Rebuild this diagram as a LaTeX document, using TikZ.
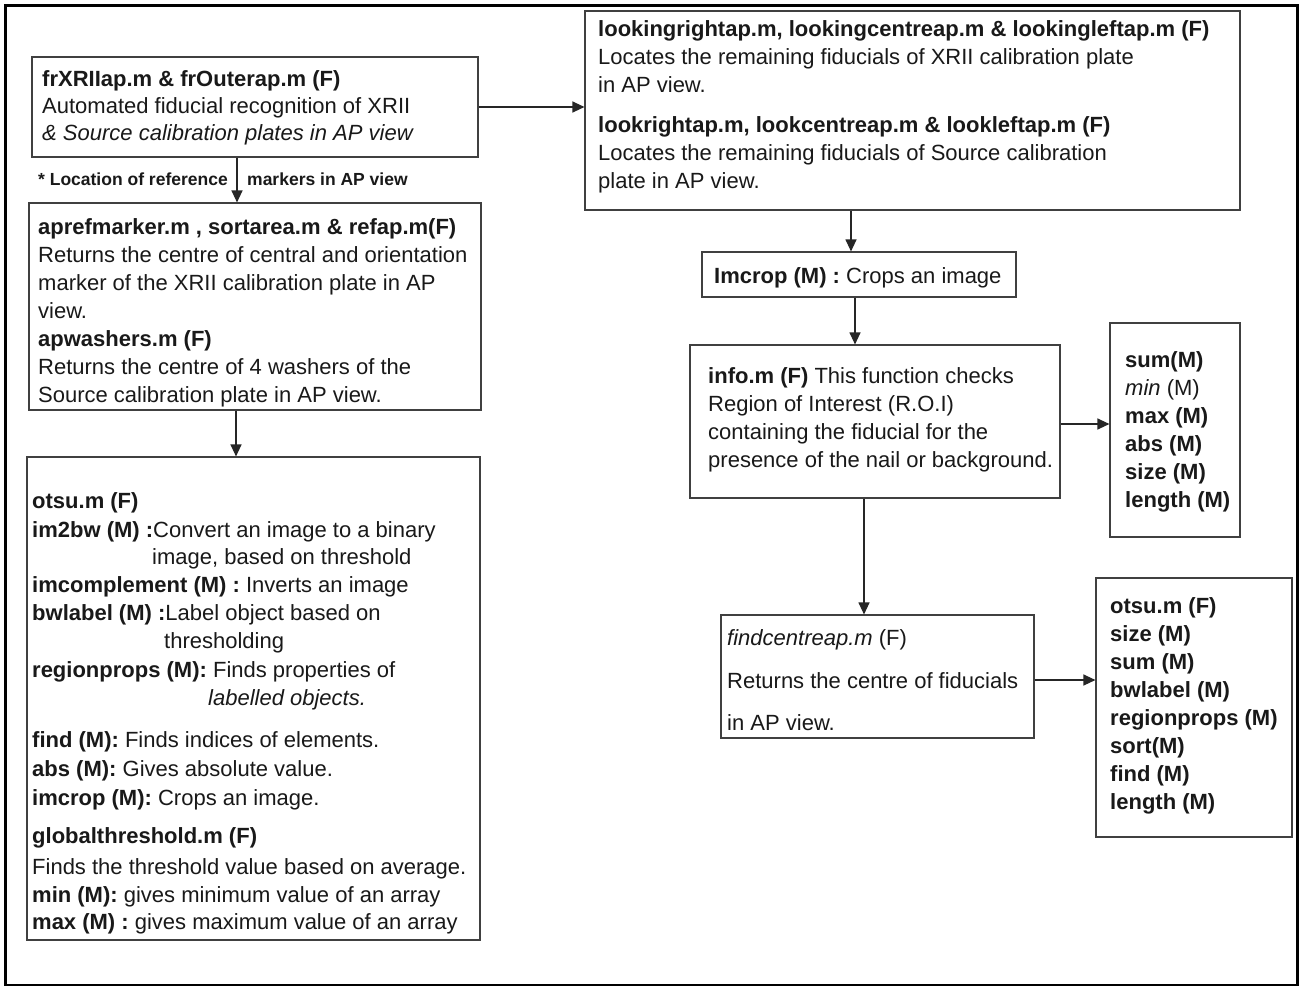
\documentclass[tikz,border=0pt]{standalone}
\usepackage{fontspec}
\setmainfont{Liberation Sans}
\usetikzlibrary{arrows.meta}

% a framed panel given by its corners (x1,y1) (x2,y2)
\newcommand\panel[5]{%
  \node[panelbox, minimum width={#4pt-#2pt}, minimum height={#5pt-#3pt}]
    (#1) at ({(#2+#4)/2},{(#3+#5)/2}) {};}
% one line of text, placed by its baseline start
\newcommand\tline[4]{\node[txt] (#1) at (#2,#3) {#4};}

\begin{document}
\begin{tikzpicture}[x=1pt,y=-1pt,
  panelbox/.style={draw=black!75, line width=1.15pt, inner sep=0pt, fill=none},
  txt/.style={anchor=base west, inner sep=0pt, text=black!90,
              font=\fontsize{22}{26}\selectfont},
  lbl/.style={inner sep=0pt, text=black!90, font=\fontsize{17.5}{20}\selectfont\bfseries},
  arr/.style={draw=black!85, line width=1.2pt, -{Triangle[length=12pt,width=11pt]}},
  frame/.style={draw=black, line width=2.6pt}]
\useasboundingbox (0,0) rectangle (1300,985);
\fill[white] (0,0) rectangle (1300,985);
\draw[frame] (5.5,5.5) rectangle (1297.5,985.2);

% ---- panels ----
\panel{fr}{32}{57}{478}{157}
\panel{look}{585}{11}{1240}{210}
\panel{apref}{29}{203}{481}{410}
\panel{otsu}{27}{457}{480}{940}
\panel{imc}{702}{252}{1016}{297}
\panel{info}{690}{345}{1060}{498}
\panel{sumlist}{1110}{323}{1240}{537}
\panel{find}{721}{615}{1034}{738}
\panel{otsulist}{1096}{578}{1292}{837}

% ---- texts ----
\tline{frA}{42}{86}{\textbf{frXRIIap.m \& frOuterap.m (F)}}
\tline{frB}{42}{113}{Automated fiducial recognition of XRII}
\tline{frC}{42}{140}{\textit{\& Source calibration plates in AP view}}

\tline{lookA}{598}{36}{\textbf{lookingrightap.m, lookingcentreap.m \& lookingleftap.m (F)}}
\tline{lookB}{598}{64}{Locates the remaining fiducials of XRII calibration plate}
\tline{lookC}{598}{92}{in AP view.}
\tline{lookD}{598}{132}{\textbf{lookrightap.m, lookcentreap.m \& lookleftap.m (F)}}
\tline{lookE}{598}{160}{Locates the remaining fiducials of Source calibration}
\tline{lookF}{598}{188}{plate in AP view.}

\tline{apA}{38}{234}{\textbf{aprefmarker.m , sortarea.m \& refap.m(F)}}
\tline{apB}{38}{262}{Returns the centre of central and orientation}
\tline{apC}{38}{290}{marker of the XRII calibration plate in AP}
\tline{apD}{38}{318}{view.}
\tline{apE}{38}{346}{\textbf{apwashers.m (F)}}
\tline{apF}{38}{374}{Returns the centre of 4 washers of the}
\tline{apG}{38}{402}{Source calibration plate in AP view.}

\tline{otA}{32}{508}{\textbf{otsu.m (F)}}
\tline{otB}{32}{537}{\textbf{im2bw (M) :}Convert an image to a binary}
\tline{otC}{152}{564}{image, based on threshold}
\tline{otD}{32}{592}{\textbf{imcomplement (M) :} Inverts an image}
\tline{otE}{32}{620}{\textbf{bwlabel (M) :}Label object based on}
\tline{otF}{164}{648}{thresholding}
\tline{otG}{32}{677}{\textbf{regionprops (M):} Finds properties of}
\tline{otH}{208}{705}{\textit{labelled objects.}}
\tline{otI}{32}{747}{\textbf{find (M):} Finds indices of elements.}
\tline{otJ}{32}{776}{\textbf{abs (M):} Gives absolute value.}
\tline{otK}{32}{805}{\textbf{imcrop (M):} Crops an image.}
\tline{otL}{32}{843}{\textbf{globalthreshold.m (F)}}
\tline{otM}{32}{874}{Finds the threshold value based on average.}
\tline{otN}{32}{902}{\textbf{min (M):} gives minimum value of an array}
\tline{otO}{32}{929}{\textbf{max (M) :} gives maximum value of an array}

\tline{imcA}{714}{283}{\textbf{Imcrop (M) :} Crops an image}

\tline{infoA}{708}{383}{\textbf{info.m (F)} This function checks}
\tline{infoB}{708}{411}{Region of Interest (R.O.I)}
\tline{infoC}{708}{439}{containing the fiducial for the}
\tline{infoD}{708}{467}{presence of the nail or background.}

\tline{sumA}{1125}{367}{\textbf{sum(M)}}
\tline{sumB}{1125}{395}{\textit{min} (M)}
\tline{sumC}{1125}{423}{\textbf{max (M)}}
\tline{sumD}{1125}{451}{\textbf{abs (M)}}
\tline{sumE}{1125}{479}{\textbf{size (M)}}
\tline{sumF}{1125}{507}{\textbf{length (M)}}

\tline{findA}{727}{645}{\textit{findcentreap.m} (F)}
\tline{findB}{727}{688}{Returns the centre of fiducials}
\tline{findC}{727}{730}{in AP view.}

\tline{olA}{1110}{613}{\textbf{otsu.m (F)}}
\tline{olB}{1110}{641}{\textbf{size (M)}}
\tline{olC}{1110}{669}{\textbf{sum (M)}}
\tline{olD}{1110}{697}{\textbf{bwlabel (M)}}
\tline{olE}{1110}{725}{\textbf{regionprops (M)}}
\tline{olF}{1110}{753}{\textbf{sort(M)}}
\tline{olG}{1110}{781}{\textbf{find (M)}}
\tline{olH}{1110}{809}{\textbf{length (M)}}

% ---- connectors ----
\draw[arr] (fr.east) -- (fr.east -| look.west);
\draw[arr] ([xshift=-18pt]fr.south) -- ([xshift=-18pt]fr.south |- apref.north);
\node[lbl, anchor=base east] (locL) at (228,185) {* Location of reference};
\node[lbl, anchor=base west] (locR) at (247,185) {markers in AP view};
\draw[arr] ([xshift=-19pt]apref.south) -- ([xshift=-19pt]apref.south |- otsu.north);
\draw[arr] ([xshift=-8pt]imc.north |- look.south) -- ([xshift=-8pt]imc.north);
\draw[arr] ([xshift=-4pt]imc.south) -- ([xshift=-4pt]imc.south |- info.north);
\draw[arr] ([xshift=-11pt]info.south) -- ([xshift=-11pt]info.south |- find.north);
\draw[arr] ([yshift=-2.5pt]info.east) -- ([yshift=-2.5pt]info.east -| sumlist.west);
\draw[arr] ([yshift=-3.5pt]find.east) -- ([yshift=-3.5pt]find.east -| otsulist.west);
\end{tikzpicture}
\end{document}
